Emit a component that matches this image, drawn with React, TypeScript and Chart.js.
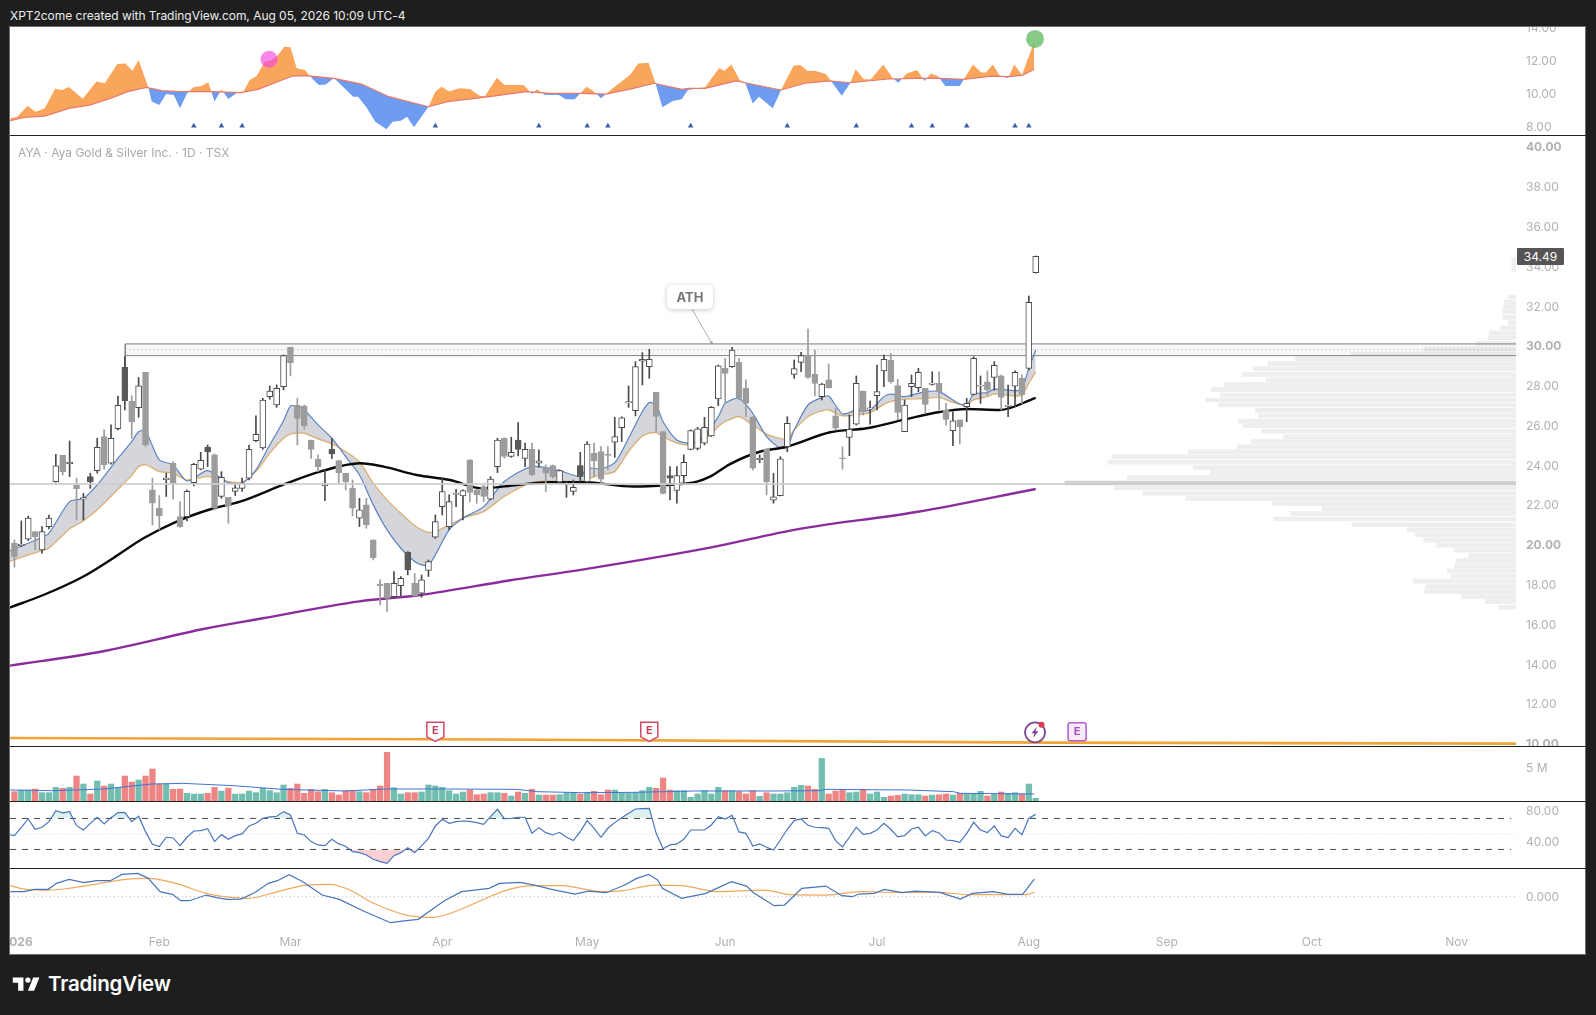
import React, { useEffect, useRef } from "react";
import { Chart, registerables } from "chart.js";

Chart.register(...registerables);

const opens = [20.07,19.95,20.27,20.66,19.73,20.91,23.17,24.49,24.07,23.00,22.30,23.42,23.72,25.43,24.09,25.83,28.91,27.20,26.89,28.66,22.75,21.83,23.27,24.09,21.41,21.41,23.12,23.79,24.91,24.51,22.42,22.38,22.68,22.83,23.34,25.23,24.86,27.44,27.02,27.94,29.92,27.00,26.97,25.26,24.29,22.97,24.81,24.22,23.59,22.83,21.33,22.00,20.24,18.01,18.06,17.39,17.94,19.62,18.06,17.56,18.70,20.37,21.91,20.91,22.52,22.45,24.26,22.75,22.92,22.28,23.92,25.35,24.43,25.26,24.34,24.79,24.09,23.84,23.97,23.15,23.02,22.67,23.97,23.17,24.59,24.68,24.54,25.15,25.88,27.12,26.74,29.22,28.95,27.66,25.68,23.47,22.72,23.47,24.79,24.84,25.10,25.46,27.32,28.86,28.95,29.16,27.86,26.43,24.27,24.79,22.24,22.46,24.92,28.56,29.16,29.50,28.56,27.44,28.28,26.47,24.37,25.39,26.06,27.72,26.82,27.49,28.73,29.28,27.99,25.68,27.94,27.89,27.86,28.06,28.11,26.77,25.73,26.27,26.94,27.55,27.96,28.19,28.41,28.48,26.95,27.97,28.36,28.86,33.67];
const highs = [20.24,21.19,21.44,20.66,20.91,21.49,24.54,24.49,25.21,23.34,22.58,23.59,25.35,25.77,26.02,27.47,29.45,27.49,28.40,28.66,23.34,22.47,23.59,24.17,22.16,22.75,24.09,24.64,25.01,24.56,23.67,22.38,23.09,23.34,25.01,26.47,27.36,27.98,28.03,29.53,29.92,27.36,27.02,25.26,24.51,23.76,25.35,24.22,23.59,23.25,22.33,22.33,20.24,18.23,18.06,18.65,18.40,19.65,18.56,18.48,19.23,21.49,23.34,22.50,22.78,22.75,24.26,22.78,23.00,23.42,25.35,25.38,25.40,26.13,25.10,25.10,24.76,24.01,24.01,23.76,23.17,23.25,24.64,25.18,25.10,24.93,24.93,26.40,26.43,27.98,29.20,29.65,29.82,27.66,25.68,23.92,23.92,24.51,25.77,25.90,26.40,26.94,29.03,29.36,29.92,29.36,28.28,26.43,24.51,24.84,23.58,24.42,26.43,29.28,29.67,30.84,29.78,28.11,29.08,26.85,24.92,26.52,28.48,27.72,27.22,29.03,29.53,29.61,28.31,27.27,28.53,28.86,27.86,28.69,28.69,27.10,26.68,26.27,27.35,29.45,28.48,28.74,29.20,28.53,28.02,28.74,28.53,32.50,34.51];
const lows = [18.87,19.90,20.20,19.73,19.57,20.79,23.14,23.50,23.42,21.24,21.24,22.83,23.59,23.79,24.04,25.77,26.77,25.35,26.40,24.93,20.99,20.74,22.42,22.28,20.87,21.19,22.95,23.76,23.92,21.75,22.33,21.07,22.47,22.67,23.25,25.18,24.79,27.31,26.90,27.78,28.48,25.01,25.80,24.34,23.67,22.21,24.34,23.09,22.75,21.44,20.91,20.82,19.23,16.97,16.64,17.31,17.44,18.48,17.42,17.36,18.40,20.32,21.49,20.74,21.91,21.24,22.16,22.08,22.16,22.25,23.62,24.34,24.39,24.46,23.92,23.47,23.89,22.67,23.34,23.09,22.38,22.50,23.17,23.12,23.42,23.09,23.76,24.39,25.18,26.90,26.47,28.03,28.36,25.68,22.55,22.25,22.08,23.14,24.76,24.76,25.01,25.43,26.99,27.10,28.91,27.27,26.43,23.75,24.12,22.50,22.08,22.45,24.67,28.36,28.69,28.36,27.47,27.27,27.86,25.76,23.79,24.47,26.01,26.52,26.06,26.77,27.94,28.11,26.27,25.68,27.44,27.69,26.60,28.02,26.77,26.01,24.97,25.06,26.18,27.52,27.10,27.52,27.77,26.77,26.43,26.94,27.10,28.78,33.65];
const closes = [19.40,20.02,21.33,20.40,20.66,21.33,23.96,23.67,24.14,22.82,22.36,23.15,24.89,24.01,25.35,27.00,27.24,26.18,27.98,25.01,22.08,21.46,23.34,23.12,20.91,22.68,24.04,24.24,24.66,21.83,23.39,21.95,22.85,23.09,24.79,25.55,27.27,27.72,27.86,29.50,29.15,26.35,25.97,24.79,23.92,23.03,24.56,23.62,23.17,21.83,21.75,20.99,19.35,17.94,17.31,18.06,18.31,18.73,17.42,18.23,19.15,21.16,22.67,22.16,22.58,22.72,22.63,22.50,22.42,23.29,25.26,24.43,24.64,24.79,24.79,23.50,24.21,23.59,23.42,23.72,23.09,22.88,23.42,25.05,24.22,23.29,24.48,25.43,26.38,27.19,28.95,29.32,29.32,26.44,22.58,23.34,23.47,24.14,25.73,25.82,25.90,26.90,28.99,28.61,29.78,27.35,27.10,23.84,24.34,23.17,22.41,24.31,26.10,28.85,29.50,28.41,28.11,28.07,27.89,25.85,24.31,25.80,28.11,26.68,26.88,27.69,29.31,28.19,26.65,27.02,28.11,28.66,27.05,28.12,27.69,26.30,26.23,25.93,27.10,29.36,28.02,27.77,29.01,27.40,27.02,28.66,27.52,32.18,34.49];
const darkDownDays = [11,16,28,46,57,73,82,95];

const volumeM = [1.4,1.65,1.65,1.8,1.25,1.25,2.05,1.9,2.05,3.75,2.55,1.05,3.0,2.25,2.55,2.05,3.75,2.85,3.15,3.75,4.8,2.55,2.55,1.75,1.8,1.15,1.05,1.05,1.15,2.05,1.5,1.95,1.05,1.05,1.5,1.25,1.9,1.55,1.25,2.4,1.9,2.55,1.15,1.75,1.4,1.75,1.25,0.9,1.55,1.55,1.4,1.25,1.75,2.25,7.3,2.0,1.05,1.25,1.25,1.35,2.4,2.25,2.05,1.55,1.05,1.35,1.65,0.95,1.05,1.25,1.25,1.15,0.75,1.35,1.15,1.75,0.9,0.9,0.9,0.95,1.25,1.25,1.05,1.25,1.45,0.95,1.65,1.65,1.15,1.15,1.25,1.55,2.05,1.9,3.45,1.65,1.55,1.55,0.55,1.05,1.55,1.05,2.05,1.55,1.55,1.4,1.05,1.55,0.7,1.25,1.05,1.05,1.25,2.05,2.35,2.25,1.75,6.4,1.05,1.5,1.75,1.25,1.35,1.75,1.05,1.35,0.55,0.75,0.85,1.05,0.95,0.95,0.75,0.9,0.95,1.05,0.9,1.15,1.05,1.05,1.45,0.75,1.05,1.35,1.15,1.25,1.05,2.55,0.4];
const volMaX = [-0.6,5.4,12.9,19.9,24.4,31.8,38.8,47.8,53.8,62.8,72.8,75.8,82.2,89.7,98.7,109.6,116.6,117.6,129.6,136.1,137.1,147.8];
const volMaM = [1.65,1.55,1.8,2.55,2.65,2.3,1.75,1.5,1.8,1.8,1.75,1.4,1.25,1.3,1.5,1.5,1.55,1.75,1.65,1.4,1.15,1.05];

const emaX = [-1,2,4,5,8,10,12,15,17,18,19,21,23,25,28,31,33,35,37,39,40,41,42,44,46,48,50,52,54,56,58,59,60,61,63,65,68,71,75,79,82,83,85,87,89,91,92,93,94,96,98,100,102,103,105,107,109,111,112,113,115,117,118,120,122,124,126,127,129,132,134,136,137,138,139,141,142,145,146,147,148];
const emaFast = [19.65,20.07,20.37,20.57,22.16,22.33,23.0,24.34,25.18,25.68,25.71,24.26,24.01,23.2,23.72,23.12,23.09,23.76,25.01,26.23,26.97,26.94,26.77,26.02,25.35,24.43,23.5,22.0,20.74,19.82,19.15,18.98,18.98,19.48,20.74,21.33,21.91,23.17,23.92,23.72,23.42,23.84,23.81,24.12,25.35,26.69,27.14,27.02,26.18,25.26,25.1,25.46,26.43,27.1,27.35,26.6,25.43,24.84,24.92,25.76,27.02,27.4,27.47,26.57,26.77,26.77,27.44,27.57,27.44,27.69,27.69,27.27,27.07,26.99,27.57,27.64,27.82,27.74,27.82,28.86,29.78];
const emaSlow = [19.12,19.48,19.7,19.82,20.79,21.19,21.75,22.78,23.47,23.92,24.01,23.67,23.59,23.25,23.42,23.17,23.14,23.67,24.59,25.35,25.56,25.6,25.6,25.31,25.06,24.68,24.17,23.09,22.25,21.58,20.96,20.74,20.62,20.66,20.99,21.33,21.66,22.42,23.12,23.19,23.17,23.29,23.52,23.67,24.68,25.46,25.6,25.63,25.43,25.1,25.01,25.26,25.93,26.18,26.43,26.01,25.56,25.34,25.34,25.76,26.43,26.72,26.77,26.47,26.52,26.63,27.05,27.19,27.3,27.34,27.4,27.15,27.05,26.99,27.27,27.44,27.57,27.47,27.52,28.11,28.69];
const ma50X = [-1,4.2,10,14.3,18.7,23.5,28.4,32.7,39.5,44.3,50.1,53.5,58.3,63.1,67.9,72.8,77.6,82.5,89.7,94.5,98.9,100.8,103.7,108,111.9,118.2,123.5,128.8,134.1,138,142.8,148];
const ma50V = [16.8,17.47,18.4,19.32,20.32,21.16,21.78,22.16,23.09,23.67,24.09,23.92,23.5,23.25,22.83,23.0,23.14,23.14,22.92,23.0,23.17,23.42,24.05,24.67,24.92,25.65,25.85,26.27,26.67,26.82,26.77,27.38];
const ma200X = [-1,12.7,27.4,36,50,58.8,71.7,82.5,100.8,113.4,130.7,148];
const ma200V = [13.9,14.63,15.76,16.3,17.15,17.47,18.2,18.76,19.85,20.77,21.64,22.8];
const longLineX = [-1,70,150,217.6];
const longLineV = [10.28,10.21,10.05,10.0];
const pocLevel = 23.05;
const zoneTop = 30.09, zoneMid = 29.8, zoneBottom = 29.5;
const zoneStartIdx = 16.07, zoneCandleHigh = 28.91;

const profilePrice = [34.3,34.05,33.8,32.46,32.19,31.96,31.71,31.42,31.15,30.9,30.64,30.4,30.12,29.83,29.58,29.35,29.1,28.84,28.56,28.29,28.04,27.79,27.52,27.27,27.02,26.75,26.48,26.21,25.98,25.7,25.43,25.18,24.92,24.67,24.42,24.15,23.87,23.62,23.37,23.1,22.85,22.58,22.31,22.06,21.81,21.56,21.29,21.0,20.74,20.49,20.23,19.98,19.72,19.45,19.2,18.93,18.68,18.42,18.17,17.89,17.64,17.39,17.14,16.85];
const profileVol = [4,4,4,7.7,11.7,12.3,13.3,12.7,7.7,15,25.7,26.7,39,90,161,215,242,256,267,244,285,297,288,303,290,254,251,271,266,248,227,258,272,320,394,398,315,298,379,440,392,364,322,238,189,220,236,160,106,98,90,78,60,46,58,60,67,63,100,88,90,53,30,17];

const oscFastX = [-0.6,0.4,1.9,3.1,4.4,5.9,6.9,7.9,9.9,11.9,13.1,14.9,16.1,17.1,18,19.4,19.9,21,22,23.1,24,25,25.9,27.1,28.1,29,30,31,32.3,33.2,34.1,35.1,36.3,37.3,38.2,39.1,40,40.9,42.1,43.1,44.1,45.1,46.3,47.1,49.1,49.8,51,52.3,53.9,54.8,56,56.9,57.9,60,61,61.9,63,64.5,66,67.5,68.2,69.9,71,73.8,75,75.7,76.9,78.9,79.9,81.2,82.9,83.9,85,86.7,89.2,90.4,91.9,92.9,93.9,95.4,96.7,97.6,100.1,102.1,102.9,103.9,105.1,105.9,107,107.9,109.9,111.1,112.9,113.9,114.9,116.1,117.6,119.9,121.1,121.9,123.1,124.1,125.9,127.3,128.1,129.3,130.8,131.9,132.8,133.8,134.9,137,138.9,140.1,140.8,141.8,142.8,144,144.9,146,147.8];
const oscFastV = [8.46,8.56,9.21,8.87,9.07,10.27,10.19,10.37,9.66,10.7,10.6,11.77,11.81,11.37,12.02,10.35,9.48,9.27,9.94,9.88,9.07,9.98,10.35,10.43,10.66,9.48,10.23,9.64,10.03,10.09,10.8,11.04,11.92,12.02,12.32,12.83,12.79,11.51,11.41,10.9,10.49,10.53,10.9,10.6,9.78,9.78,9.13,8.26,7.79,8.26,8.32,8.56,7.91,9.17,10.09,10.39,10.09,10.29,10.25,9.82,9.82,10.94,10.49,10.49,9.94,10.23,9.88,9.88,9.62,9.62,10.39,10.13,9.68,10.29,11.1,11.81,11.85,10.6,9.13,9.52,9.62,10.19,10.35,11.51,11.37,11.75,10.8,10.63,9.37,9.78,9.07,10.19,11.67,11.71,11.37,11.35,11.16,9.84,10.6,11.45,10.84,10.84,11.75,10.9,10.63,11.2,11.41,10.74,11.2,11.04,10.43,10.43,11.75,11.25,11.25,11.75,11.04,10.92,11.75,11.1,13.14];
const oscSlowX = [-0.6,1.4,4.4,7.9,10.9,13.9,16.4,19.1,21.4,23.4,25.9,28.8,32.8,35.3,38.8,40.3,42.3,46.3,50.3,54.3,60,62.8,68.8,74.2,77.7,82.2,85.7,89.7,92.7,96.7,97.7,100.1,104.6,105.9,111.1,114.6,118.1,121.1,126.6,131.1,134.1,137.6,141.6,144.1,146.1,147.8];
const oscSlowV = [8.32,8.52,8.6,9.07,9.27,9.68,10.09,10.35,10.15,10.11,10.09,10.09,10.03,10.23,10.8,11.04,11.06,10.9,10.55,9.78,9.17,9.48,9.78,10.09,9.98,9.98,9.94,10.29,10.6,10.23,10.29,10.29,10.74,10.63,10.19,10.6,10.74,10.63,10.86,10.9,10.9,10.84,11.04,11.0,11.1,11.45];
const signalDays = [26,30,33,61,76,83,86,98,112,122,130,133,138,145,147];
const signalLevel = 8.0;
const sellDot = { idx: 36.9, value: 12.06 };
const buyDot = { idx: 147.9, value: 13.3 };

const rsiValues = [49.6,47.8,58.6,69.3,56.0,58.6,65.9,80.1,77.1,78.8,60.7,55.1,63.7,71.5,62.9,71.0,77.5,77.9,65.9,72.8,53.0,36.6,33.6,45.7,44.8,34.9,45.7,53.8,54.3,56.9,40.1,49.1,43.1,47.8,50.0,60.3,63.7,70.2,71.9,72.8,78.8,74.5,50.8,48.7,40.1,35.8,34.9,43.1,37.1,34.1,27.2,25.9,22.9,17.3,14.3,12.1,22.0,25.9,32.3,25.9,34.5,44.4,60.3,68.9,63.7,65.9,66.7,66.3,64.6,62.4,72.3,81.8,69.7,70.2,71.5,71.5,50.8,58.1,51.7,48.7,52.1,45.7,41.4,53.0,67.2,57.3,45.7,57.3,64.6,71.0,76.6,82.2,82.6,83.1,50.8,31.0,35.8,37.1,43.1,55.1,55.1,55.1,61.6,72.3,69.3,74.0,52.6,50.8,34.5,37.1,32.8,29.3,42.2,56.0,67.2,69.3,61.1,58.6,58.1,57.3,41.4,33.2,45.7,58.6,49.5,50.8,55.1,63.7,56.0,46.1,47.8,56.4,58.6,47.4,54.3,51.3,42.2,41.4,39.2,50.8,65.0,55.1,51.7,60.3,47.4,45.2,57.3,49.1,70.2,75.3];
const rsiUpper = 70, rsiMiddle = 50, rsiLower = 30;

const macdX = [-0.6,1.4,2.9,4.9,6.1,7.9,10.1,11.9,13.9,15.6,17.9,19.4,21.1,22.9,24.1,25.4,27.8,29.3,30.8,32.8,34.8,36.8,38.1,39.8,41.8,44.6,47.1,50.8,54.5,56.8,58.5,62.3,64.8,68.8,70.3,73.3,75.7,77.7,81.2,83.2,85.7,88.2,90.2,91.9,93.2,93.9,96.7,100.2,103.9,106.1,107.1,110.1,111.6,114.1,117.6,119.9,121.4,122.4,124.6,126.1,128.6,130.6,134.1,137.1,138.8,141.8,144.1,146.1,147.8];
const macdV = [0.10,0.10,0.147,0.147,0.267,0.347,0.28,0.32,0.32,0.447,0.467,0.367,0.10,0.047,-0.08,-0.08,0.033,-0.02,-0.053,-0.047,0.08,0.267,0.32,0.44,0.30,0.033,-0.053,-0.30,-0.52,-0.48,-0.453,-0.08,0.10,0.167,0.267,0.287,0.22,0.153,0.053,0.113,0.08,0.22,0.367,0.447,0.333,0.167,-0.033,0.067,0.30,0.213,0.08,-0.18,-0.167,0.167,0.213,0.02,0,0.053,0.067,0.147,0.08,0.113,0.087,-0.047,0.067,0.10,0.047,0.047,0.353];
const signalX = [-0.6,1.4,4.9,7.9,11.9,16.4,19.4,23.4,27.8,31.8,33.8,37.8,42.3,45.8,48.3,52.3,56.8,60.8,63.8,67.8,71.3,75.7,79.2,85.2,88.2,92.7,96.7,102.1,108.6,112.6,117.6,122.6,127.6,133.6,138.6,146.6,147.8];
const signalV = [0.22,0.153,0.133,0.167,0.253,0.353,0.367,0.267,0.067,-0.02,-0.033,0.087,0.233,0.247,0.153,-0.147,-0.367,-0.413,-0.30,-0.067,0.133,0.22,0.22,0.10,0.12,0.233,0.22,0.10,0.133,0.04,0.033,0.10,0.087,0.087,0.04,0.04,0.087];

const priceTicks = [10,12,14,16,18,20,22,24,26,28,30,32,34,36,38,40];
const boldPriceTicks = [10,20,30,40];
const oscTicks = [8,10,12,14];
const volTicks = [5];
const rsiTicks = [40,80];
const macdTicks = [0];
const monthIdx = [0.4,21,40,62,83,103,125,147,167,188,209];
const monthLabels = ["2026","Feb","Mar","Apr","May","Jun","Jul","Aug","Sep","Oct","Nov"];
const earningsDays = [61,92];
const upcomingEarnings = [154];
const alertDay = 147.9;
const markerPrice = 10.59;
const athLeaderX = [98.2,101];
const athLeaderV = [31.84,30.15];

const X_MIN = -0.64, X_MAX = 217.6;
const FONT = "Inter, Roboto, sans-serif";
const AXIS_COLOR = "#b2b2b2";

const pts = (xs: number[], ys: number[]) => xs.map((x, k) => ({ x, y: ys[k] }));
const flat = (a: number, b: number, v: number) => [{ x: a, y: v }, { x: b, y: v }];
const byDay = (vals: number[]) => vals.map((y, x) => ({ x, y }));
const noPad = (s: any) => { s.paddingTop = 0; s.paddingBottom = 0; s.paddingLeft = 0; s.paddingRight = 0; };

function panelOptions(yMin: number, yMax: number, ticks: number[], fmt: (v: number) => string, bold?: number[]): any {
  return {
    animation: false,
    responsive: false,
    maintainAspectRatio: false,
    events: [],
    layout: { autoPadding: false, padding: 0 },
    plugins: { legend: { display: false }, tooltip: { enabled: false } },
    scales: {
      x: { type: "linear", min: X_MIN, max: X_MAX, display: false, offset: false, grid: { display: false } },
      y: {
        type: "linear",
        position: "right",
        min: yMin,
        max: yMax,
        afterFit: (s: any) => { s.width = 69; noPad(s); },
        afterBuildTicks: (s: any) => { s.ticks = ticks.map((value) => ({ value })); },
        grid: { display: false, drawTicks: false },
        border: { display: false },
        ticks: {
          autoSkip: false,
          padding: 10,
          labelOffset: 1,
          color: AXIS_COLOR,
          font: (ctx: any) => ({ family: FONT, size: 12, weight: bold && ctx.tick && bold.includes(ctx.tick.value) ? "700" : "400" }),
          callback: (v: number) => fmt(v),
        },
      },
    },
  };
}

const line = (data: any[], color: string, width: number, extra: any = {}) => ({
  type: "line",
  data,
  borderColor: color,
  borderWidth: width,
  pointRadius: 0,
  tension: 0,
  ...extra,
});

const markerPlugin = {
  id: "eventMarkers",
  afterDatasetsDraw(chart: any) {
    const { ctx, scales } = chart;
    const y = scales.y.getPixelForValue(markerPrice);
    ctx.save();
    earningsDays.forEach((d) => {
      const x = scales.x.getPixelForValue(d);
      ctx.beginPath();
      ctx.moveTo(x - 8.5, y - 9.5);
      ctx.lineTo(x + 8.5, y - 9.5);
      ctx.lineTo(x + 8.5, y + 5);
      ctx.lineTo(x, y + 9.5);
      ctx.lineTo(x - 8.5, y + 5);
      ctx.closePath();
      ctx.fillStyle = "#ffffff";
      ctx.fill();
      ctx.strokeStyle = "#d24a62";
      ctx.lineWidth = 1.5;
      ctx.stroke();
      ctx.fillStyle = "#c5405a";
      ctx.font = "700 11px " + FONT;
      ctx.textAlign = "center";
      ctx.textBaseline = "middle";
      ctx.fillText("E", x, y - 1);
    });
    upcomingEarnings.forEach((d) => {
      const x = scales.x.getPixelForValue(d);
      ctx.fillStyle = "#f6ecfa";
      ctx.strokeStyle = "#b35bd0";
      ctx.lineWidth = 1.5;
      ctx.beginPath();
      ctx.roundRect(x - 9, y - 9, 18, 18, 2);
      ctx.fill();
      ctx.stroke();
      ctx.fillStyle = "#a84cc8";
      ctx.font = "700 11px " + FONT;
      ctx.textAlign = "center";
      ctx.textBaseline = "middle";
      ctx.fillText("E", x, y);
    });
    const ax = scales.x.getPixelForValue(alertDay);
    ctx.beginPath();
    ctx.arc(ax, y + 0.5, 10, 0, Math.PI * 2);
    ctx.fillStyle = "#ffffff";
    ctx.fill();
    ctx.strokeStyle = "#7a4a96";
    ctx.lineWidth = 1.8;
    ctx.stroke();
    ctx.fillStyle = "#7a3d9a";
    ctx.beginPath();
    ctx.moveTo(ax + 2, y - 5);
    ctx.lineTo(ax - 3.5, y + 1.5);
    ctx.lineTo(ax - 0.5, y + 1.5);
    ctx.lineTo(ax - 2, y + 6);
    ctx.lineTo(ax + 3.5, y - 0.5);
    ctx.lineTo(ax + 0.5, y - 0.5);
    ctx.closePath();
    ctx.fill();
    ctx.beginPath();
    ctx.arc(ax + 6.5, y - 7, 3, 0, Math.PI * 2);
    ctx.fillStyle = "#e03a4e";
    ctx.fill();
    ctx.restore();
  },
};

export default function App() {
  const oscRef = useRef<HTMLCanvasElement>(null);
  const profileRef = useRef<HTMLCanvasElement>(null);
  const mainRef = useRef<HTMLCanvasElement>(null);
  const volRef = useRef<HTMLCanvasElement>(null);
  const rsiRef = useRef<HTMLCanvasElement>(null);
  const macdRef = useRef<HTMLCanvasElement>(null);

  useEffect(() => {
    const charts: Chart[] = [];
    const isDark = (i: number) => darkDownDays.includes(i);
    const bodyFill = opens.map((o, i) => (closes[i] >= o ? "#ffffff" : isDark(i) ? "#5a5a5a" : "#9c9c9c"));
    const bodyEdge = opens.map((o, i) => (closes[i] >= o ? "#4a4a4a" : isDark(i) ? "#5a5a5a" : "#9c9c9c"));
    const wickColor = opens.map((o, i) => (closes[i] >= o || isDark(i) ? "#4a4a4a" : "#9c9c9c"));

    // top oscillator
    charts.push(new Chart(oscRef.current as any, {
      type: "line",
      data: {
        datasets: [
          line(pts(oscFastX, oscFastV), "rgba(0,0,0,0)", 0, {
            order: 3,
            fill: { target: "+1", above: "#f9a65c", below: "#6d9cf0" },
          }),
          line(pts(oscSlowX, oscSlowV), "#e8796a", 1.2, { order: 2 }),
          line(signalDays.map((x) => ({ x, y: signalLevel })), "#3a5ea8", 0, {
            order: 1, showLine: false, pointStyle: "triangle", pointRadius: 3.2, pointBackgroundColor: "#3a5ea8", pointBorderWidth: 0,
          }),
          line([{ x: sellDot.idx, y: sellDot.value }], "#000", 0, {
            order: 0, showLine: false, pointRadius: 8.5, pointBackgroundColor: "rgba(242,70,225,0.65)", pointBorderWidth: 0,
          }),
          line([{ x: buyDot.idx, y: buyDot.value }], "#000", 0, {
            order: 0, showLine: false, pointRadius: 9, pointBackgroundColor: "rgba(85,180,85,0.7)", pointBorderWidth: 0,
          }),
        ] as any,
      },
      options: panelOptions(7.445, 14.03, oscTicks, (v) => v.toFixed(2)),
    }));

    // volume profile
    charts.push(new Chart(profileRef.current as any, {
      type: "bar",
      data: {
        datasets: [{
          data: profilePrice.map((y, k) => ({ x: profileVol[k], y })),
          backgroundColor: profileVol.map((v) => (v >= 440 ? "#d2d2d2" : "#eeeeee")),
          barThickness: 4,
        }] as any,
      },
      options: {
        indexAxis: "y",
        animation: false,
        responsive: false,
        maintainAspectRatio: false,
        events: [],
        layout: { autoPadding: false, padding: 0 },
        plugins: { legend: { display: false }, tooltip: { enabled: false } },
        scales: {
          x: { type: "linear", min: 0, max: 1469, reverse: true, display: false },
          y: { type: "linear", min: 9.88, max: 40.54, display: false, offset: false },
        },
      } as any,
    }));

    // price panel
    charts.push(new Chart(mainRef.current as any, {
      type: "bar",
      plugins: [markerPlugin],
      data: {
        datasets: [
          line(flat(zoneStartIdx, X_MAX, zoneTop), "#7d7d7d", 1, { order: 6, fill: { target: "+1", above: "rgba(190,190,190,0.10)", below: "rgba(190,190,190,0.10)" } }),
          line(flat(zoneStartIdx, X_MAX, zoneBottom), "#7d7d7d", 1, { order: 6 }),
          line(flat(zoneStartIdx, X_MAX, zoneMid), "#a5a5a5", 1, { order: 6, borderDash: [1, 3] }),
          line([{ x: zoneStartIdx, y: zoneTop }, { x: zoneStartIdx, y: zoneCandleHigh }], "#7d7d7d", 1, { order: 6 }),
          line(pts(emaX, emaFast), "#5f82c2", 1.2, { order: 5, tension: 0.25, fill: { target: "+1", above: "rgba(115,120,135,0.30)", below: "rgba(115,120,135,0.30)" } }),
          line(pts(emaX, emaSlow), "#f0bd78", 1.4, { order: 5, tension: 0.25 }),
          line(pts(ma200X, ma200V), "#8a2c9c", 2.4, { order: 4, cubicInterpolationMode: "monotone" }),
          line(pts(ma50X, ma50V), "#0a0a0a", 2.4, { order: 4, cubicInterpolationMode: "monotone" }),
          line(pts(longLineX, longLineV), "#f0a436", 2.6, { order: 4 }),
          {
            type: "bar",
            order: 3,
            grouped: false,
            barThickness: 1,
            backgroundColor: wickColor,
            data: lows.map((l, i) => ({ x: i, y: [l, highs[i]] })),
          },
          {
            type: "bar",
            order: 2,
            grouped: false,
            barThickness: 6,
            minBarLength: 1,
            borderWidth: 1,
            borderSkipped: false,
            backgroundColor: bodyFill,
            borderColor: bodyEdge,
            data: opens.map((o, i) => ({ x: i, y: [o, closes[i]] })),
          },
          line(flat(-1, X_MAX, pocLevel), "rgba(205,205,205,0.85)", 2, { order: 1 }),
          line(pts(athLeaderX, athLeaderV), "#b0b0b0", 1, {
            order: 1, pointRadius: [0, 1.5], pointBackgroundColor: "#a0a0a0", pointBorderWidth: 0,
          }),
        ] as any,
      },
      options: panelOptions(9.88, 40.54, priceTicks, (v) => v.toFixed(2), boldPriceTicks),
    }));

    // volume panel
    charts.push(new Chart(volRef.current as any, {
      type: "bar",
      data: {
        datasets: [
          line(pts(volMaX, volMaM), "#3f74d8", 1, { order: 1 }),
          {
            type: "bar",
            order: 2,
            barThickness: 5.6,
            backgroundColor: opens.map((o, i) => (closes[i] >= o ? "#72bfb2" : "#ee8585")),
            data: byDay(volumeM),
          },
        ] as any,
      },
      options: panelOptions(0, 8.11, volTicks, (v) => v + " M"),
    }));

    // RSI
    const rsiPts = rsiValues.map((y, k) => ({ x: k - 1, y }));
    charts.push(new Chart(rsiRef.current as any, {
      type: "line",
      data: {
        datasets: [
          line(flat(X_MIN, X_MAX, rsiMiddle), "#cfd8e8", 1, { borderDash: [1, 2] }),
          line(flat(X_MIN, 216.9, rsiUpper), "#4a4a4a", 1, { borderDash: [6, 6] }),
          line(flat(X_MIN, 216.9, rsiLower), "#4a4a4a", 1, { borderDash: [6, 6] }),
          line(rsiPts, "rgba(0,0,0,0)", 0, { fill: { target: { value: rsiUpper }, above: "rgba(120,205,190,0.25)", below: "rgba(0,0,0,0)" } }),
          line(rsiPts, "rgba(0,0,0,0)", 0, { fill: { target: { value: rsiLower }, above: "rgba(0,0,0,0)", below: "rgba(240,120,135,0.35)" } }),
          line(rsiPts, "#4a74bc", 1.2, { order: -1 }),
        ] as any,
      },
      options: panelOptions(6.06, 91.2, rsiTicks, (v) => v.toFixed(2)),
    }));

    // MACD + time axis
    const macdOpts = panelOptions(-0.686, 0.554, macdTicks, (v) => v.toFixed(3));
    macdOpts.scales.x = {
      type: "linear",
      min: X_MIN,
      max: X_MAX,
      offset: false,
      afterFit: (s: any) => { s.height = 23; noPad(s); },
      afterBuildTicks: (s: any) => { s.ticks = monthIdx.map((value) => ({ value })); },
      grid: { display: false, drawTicks: false },
      border: { display: false },
      ticks: {
        autoSkip: false,
        maxRotation: 0,
        padding: 4,
        color: AXIS_COLOR,
        font: (ctx: any) => ({ family: FONT, size: 12, weight: ctx.index === 0 ? "700" : "400" }),
        callback: (_v: number, i: number) => monthLabels[i],
      },
    };
    charts.push(new Chart(macdRef.current as any, {
      type: "line",
      data: {
        datasets: [
          line(flat(X_MIN, X_MAX, 0), "#b4b4b4", 1, { borderDash: [1, 3] }),
          line(pts(signalX, signalV), "#f0a85c", 1.2, { cubicInterpolationMode: "monotone" }),
          line(pts(macdX, macdV), "#4a74bc", 1.2, { order: -1 }),
        ] as any,
      },
      options: macdOpts,
    }));

    return () => charts.forEach((c) => c.destroy());
  }, []);

  const abs = (left: number, top: number, width: number, height: number): React.CSSProperties => ({
    position: "absolute", left, top, width, height, display: "block",
  });
  const rule = (top: number) => (
    <div key={top} style={{ position: "absolute", left: 10, top, width: 1576, height: 1, background: "#222" }} />
  );

  return (
    <div style={{ position: "absolute", left: 0, top: 0, width: 1596, height: 1015, background: "#1e1e1e", overflow: "hidden", fontFamily: FONT }}>
      <div style={{ position: "absolute", left: 10, top: 8, color: "#ececec", fontSize: 12, letterSpacing: -0.03, lineHeight: "16px", whiteSpace: "nowrap" }}>
        XPT2come created with TradingView.com, Aug 05, 2026 10:09 UTC-4
      </div>
      <div style={{ position: "absolute", left: 10, top: 27, width: 1575, height: 927, background: "#fff", outline: "1px solid #6e6e6e" }} />
      <canvas ref={oscRef} width={1575} height={108} style={abs(10, 27, 1575, 108)} />
      <canvas ref={profileRef} width={1506} height={610} style={abs(10, 136, 1506, 610)} />
      <canvas ref={mainRef} width={1575} height={610} style={abs(10, 136, 1575, 610)} />
      <canvas ref={volRef} width={1575} height={54} style={abs(10, 747, 1575, 54)} />
      <canvas ref={rsiRef} width={1575} height={66} style={abs(10, 802, 1575, 66)} />
      <canvas ref={macdRef} width={1575} height={85} style={abs(10, 869, 1575, 85)} />
      {[135, 746, 801, 868].map(rule)}
      <div style={{ position: "absolute", left: 18, top: 145, color: "#a8a8a8", fontSize: 12, lineHeight: "16px", whiteSpace: "nowrap" }}>
        AYA · Aya Gold &amp; Silver Inc. · 1D · TSX
      </div>
      <div style={{ position: "absolute", left: 667, top: 285, width: 46, height: 24, borderRadius: 5, background: "#fff", boxShadow: "0 1px 5px rgba(0,0,0,0.22)", color: "#777", fontSize: 13, fontWeight: 700, lineHeight: "24px", textAlign: "center" }}>
        ATH
      </div>
      <div style={{ position: "absolute", left: 1517, top: 248, width: 47, height: 17, background: "#555", color: "#fff", fontSize: 12, lineHeight: "17px", textAlign: "center", borderRadius: 1 }}>
        34.49
      </div>
      <svg width={32} height={25} viewBox="0 0 36 28" style={{ position: "absolute", left: 11, top: 972 }}>
        <path fill="#fff" d="M14 6H2v6h6v9h6V6Zm12 15h-7l6-15h7l-6 15Zm-7-9a3 3 0 1 0 0-6 3 3 0 0 0 0 6Z" />
      </svg>
      <div style={{ position: "absolute", left: 48, top: 971, color: "#fff", fontSize: 20.5, fontWeight: 600, lineHeight: "26px", whiteSpace: "nowrap", letterSpacing: -0.2 }}>
        TradingView
      </div>
    </div>
  );
}
